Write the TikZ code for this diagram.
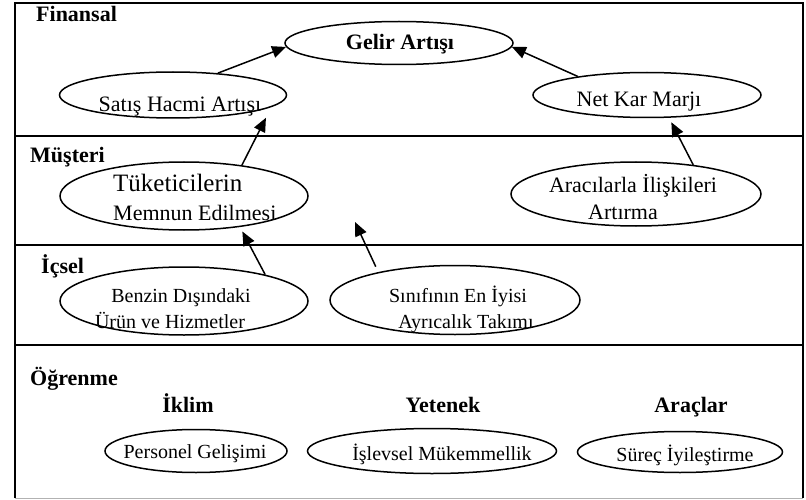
\documentclass[tikz,border=0pt]{standalone}
\usepackage{fontspec}
\setmainfont{Liberation Serif}
\usetikzlibrary{shapes.geometric,arrows.meta}
\begin{document}
\begin{tikzpicture}[x=1pt,y=-1pt,
  ell/.style={draw,ellipse,line width=1.5pt,inner sep=0pt},
  arr/.style={line width=1.5pt,-{Triangle[length=14pt,width=12pt]}},
  frame/.style={line width=1.7pt},
  head/.style={font=\fontsize{22}{26}\selectfont\bfseries,anchor=base west,inner sep=0pt},
  sub/.style={font=\fontsize{22}{26}\selectfont\bfseries,anchor=base,inner sep=0pt},
  tl/.style={font=\fontsize{22}{26}\selectfont,anchor=base,inner sep=0pt},
  ts/.style={font=\fontsize{20}{24}\selectfont,anchor=base,inner sep=0pt},
]
\useasboundingbox (0,0) rectangle (806,500);

% frame and rows
\draw[frame] (15,498) -- (15,3) -- (803,3) -- (803,498);
\draw[gray!60,line width=1pt] (15,498) -- (803,498);
\draw[frame] (15,136) -- (803,136);
\draw[frame] (15,245) -- (803,245);
\draw[frame] (15,345) -- (803,345);

% row labels
\node[head] (lfin) at (36,22) {Finansal};
\node[head] (lmus) at (30,163) {Müşteri};
\node[head] (lics) at (41,273) {İçsel};
\node[head] (logr) at (30,385) {Öğrenme};
\node[sub] (likl) at (188,412) {İklim};
\node[sub] (lyet) at (443,412) {Yetenek};
\node[sub] (lara) at (691,412) {Araçlar};

% ellipses
\node[ell,minimum width=228pt,minimum height=43pt] (gelir) at (399,43) {};
\node[ell,minimum width=227pt,minimum height=46pt] (satis) at (173,95) {};
\node[ell,minimum width=228pt,minimum height=45pt] (netkar) at (647,95) {};
\node[ell,minimum width=248pt,minimum height=68pt] (tuket) at (184,196) {};
\node[ell,minimum width=250pt,minimum height=64pt] (araci) at (636,194) {};
\node[ell,minimum width=248pt,minimum height=68pt] (benzin) at (184,301) {};
\node[ell,minimum width=250pt,minimum height=69pt] (sinif) at (455,300) {};
\node[ell,minimum width=182pt,minimum height=43pt] (personel) at (196,451) {};
\node[ell,minimum width=249pt,minimum height=45pt] (islevsel) at (432,451) {};
\node[ell,minimum width=205pt,minimum height=41pt] (surec) at (680,452) {};

% texts
\node[sub] (tgelir) at (400,50) {Gelir Artışı};
\node[tl] (tsatis) at (180,112) {Satış Hacmi Artışı};
\node[tl] (tnet) at (639,107) {Net Kar Marjı};
\node[font=\fontsize{25}{30}\selectfont,anchor=base west,inner sep=0pt] (ttuk1) at (113,191) {Tüketicilerin};
\node[font=\fontsize{22}{26}\selectfont,anchor=base west,inner sep=0pt] (ttuk2) at (113,220) {Memnun Edilmesi};
\node[tl] (tara1) at (633,192) {Aracılarla İlişkileri};
\node[tl] (tara2) at (623,219) {Artırma};
\node[ts] (tben1) at (181,302) {Benzin Dışındaki};
\node[ts] (tben2) at (170,328) {Ürün ve Hizmetler};
\node[ts] (tsin1) at (458,302) {Sınıfının En İyisi};
\node[ts] (tsin2) at (466,328) {Ayrıcalık Takımı};
\node[ts] (tper) at (195,458) {Personel Gelişimi};
\node[ts] (tisl) at (442,460) {İşlevsel Mükemmellik};
\node[ts] (tsur) at (685,461) {Süreç İyileştirme};

% connectors
\draw[arr] (satis.26) -- (gelir.182);
\draw[arr] (netkar.165) -- (gelir.-2);
\draw[arr,shorten >=12pt] (tuket.28) -- (satis.-7);
\draw[arr,shorten >=5pt] (araci.27) -- (netkar.-46);
\draw[arr,shorten >=5pt] (benzin.18) -- (tuket.-29);
\coordinate (free) at (355,222);
\draw[arr,shorten <=6pt] (sinif.160) -- (free);
\end{tikzpicture}
\end{document}
